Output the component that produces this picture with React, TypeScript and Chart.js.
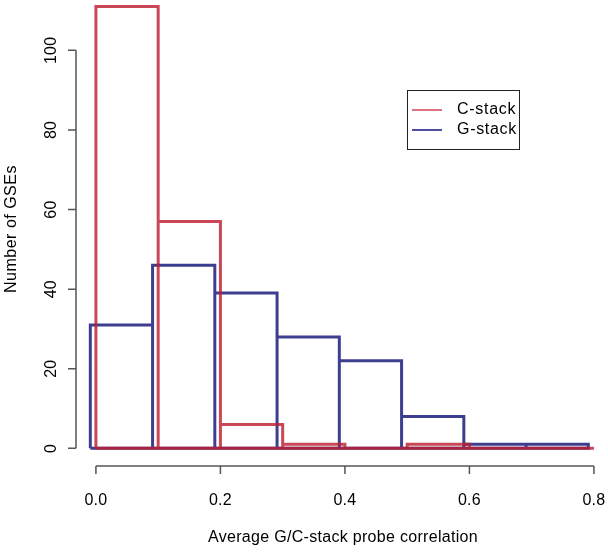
import React, { useEffect, useRef } from "react";
import { Chart, registerables } from "chart.js";

Chart.register(...registerables);

// Histogram data (bin width 0.1)
const binWidth = 0.1;
const cStackStart = 0.0;
const cStackCounts = [111, 57, 6, 1, 0, 1, 0, 0];
const gStackStart = -0.009;
const gStackCounts = [31, 46, 39, 28, 22, 8, 1, 1];

const xTicks = [0, 0.2, 0.4, 0.6, 0.8];
const yTicks = [0, 20, 40, 60, 80, 100];

const seriesNames = ["C-stack", "G-stack"];
const cColor = "rgba(190,30,50,0.82)";
const gColor = "rgba(35,35,130,0.88)";
const cLegendColor = "rgba(215,100,118,0.9)";
const gLegendColor = "rgba(60,60,150,0.9)";

function outline(start: number, counts: number[]) {
  const pts: { x: number; y: number }[] = [];
  counts.forEach((h, i) => {
    const l = start + i * binWidth;
    const r = l + binWidth;
    pts.push({ x: l, y: 0 }, { x: l, y: h }, { x: r, y: h }, { x: r, y: 0 });
  });
  pts.push({ x: start, y: 0 });
  return pts;
}

const FONT = '"Liberation Sans", Arial, Helvetica, sans-serif';

function setSpacing(ctx: any, px: number) {
  try {
    ctx.letterSpacing = px + "px";
  } catch (e) {}
}

const axesPlugin = {
  id: "rAxes",
  afterDraw(chart: any) {
    const ctx = chart.ctx;
    const xs = chart.scales.x;
    const ys = chart.scales.y;
    const ca = chart.chartArea;
    ctx.save();
    ctx.strokeStyle = "#555";
    ctx.lineWidth = 1.5;
    ctx.fillStyle = "#000";
    ctx.font = `16px ${FONT}`;
    setSpacing(ctx, 0.2);

    // x axis
    const xAxisY = ca.bottom;
    const x0 = xs.getPixelForValue(xTicks[0]);
    const x1 = xs.getPixelForValue(xTicks[xTicks.length - 1]);
    ctx.beginPath();
    ctx.moveTo(x0, xAxisY);
    ctx.lineTo(x1, xAxisY);
    xTicks.forEach((t) => {
      const px = xs.getPixelForValue(t);
      ctx.moveTo(px, xAxisY);
      ctx.lineTo(px, xAxisY + 8);
    });
    ctx.stroke();
    ctx.textAlign = "center";
    ctx.textBaseline = "middle";
    xTicks.forEach((t) => {
      ctx.fillText(t.toFixed(1), xs.getPixelForValue(t), xAxisY + 35);
    });
    setSpacing(ctx, 0.3);
    ctx.fillText("Average G/C-stack probe correlation", 343, 538);

    // y axis
    const yAxisX = ca.left;
    const y0 = ys.getPixelForValue(yTicks[0]);
    const y1 = ys.getPixelForValue(yTicks[yTicks.length - 1]);
    ctx.beginPath();
    ctx.moveTo(yAxisX, y0);
    ctx.lineTo(yAxisX, y1);
    yTicks.forEach((t) => {
      const py = ys.getPixelForValue(t);
      ctx.moveTo(yAxisX, py);
      ctx.lineTo(yAxisX - 8, py);
    });
    ctx.stroke();
    setSpacing(ctx, 0.2);
    yTicks.forEach((t) => {
      ctx.save();
      ctx.translate(yAxisX - 24, ys.getPixelForValue(t));
      ctx.rotate(-Math.PI / 2);
      ctx.fillText(String(t), 0, 0);
      ctx.restore();
    });
    ctx.save();
    setSpacing(ctx, 0.5);
    ctx.translate(12, 229);
    ctx.rotate(-Math.PI / 2);
    ctx.fillText("Number of GSEs", 0, 0);
    ctx.restore();

    // legend
    setSpacing(ctx, 0);
    ctx.strokeStyle = "#222";
    ctx.lineWidth = 1;
    ctx.strokeRect(407.5, 90.5, 112, 59);
    ctx.lineWidth = 2;
    ctx.strokeStyle = cLegendColor;
    ctx.beginPath();
    ctx.moveTo(412, 110);
    ctx.lineTo(442, 110);
    ctx.stroke();
    ctx.strokeStyle = gLegendColor;
    ctx.beginPath();
    ctx.moveTo(412, 130);
    ctx.lineTo(442, 130);
    ctx.stroke();
    ctx.textAlign = "left";
    ctx.fillStyle = "#000";
    setSpacing(ctx, 0.7);
    ctx.fillText(seriesNames[0], 457, 110);
    ctx.fillText(seriesNames[1], 457, 130);
    ctx.restore();
  },
};

export default function App() {
  const ref = useRef<HTMLCanvasElement>(null);
  useEffect(() => {
    if (!ref.current) return;
    const chart = new Chart(ref.current, {
      type: "line",
      data: {
        datasets: [
          {
            label: seriesNames[0],
            data: outline(cStackStart, cStackCounts),
            borderColor: cColor,
            borderWidth: 3,
            pointRadius: 0,
            tension: 0,
            fill: false,
          },
          {
            label: seriesNames[1],
            data: outline(gStackStart, gStackCounts),
            borderColor: gColor,
            borderWidth: 3,
            pointRadius: 0,
            tension: 0,
            fill: false,
          },
        ],
      },
      options: {
        animation: false,
        responsive: false,
        devicePixelRatio: 1,
        layout: { padding: { left: 76, right: 0, top: 0, bottom: 86 } },
        plugins: { legend: { display: false }, tooltip: { enabled: false } },
        scales: {
          x: { type: "linear", display: false, min: -0.032, max: 0.8226 },
          y: { type: "linear", display: false, min: -4.44, max: 112.65 },
        },
      },
      plugins: [axesPlugin],
    });
    return () => chart.destroy();
  }, []);
  return (
    <div style={{ position: "absolute", left: 0, top: 0, width: 608, height: 552, background: "#fff" }}>
      <canvas ref={ref} width={608} height={552} />
    </div>
  );
}
